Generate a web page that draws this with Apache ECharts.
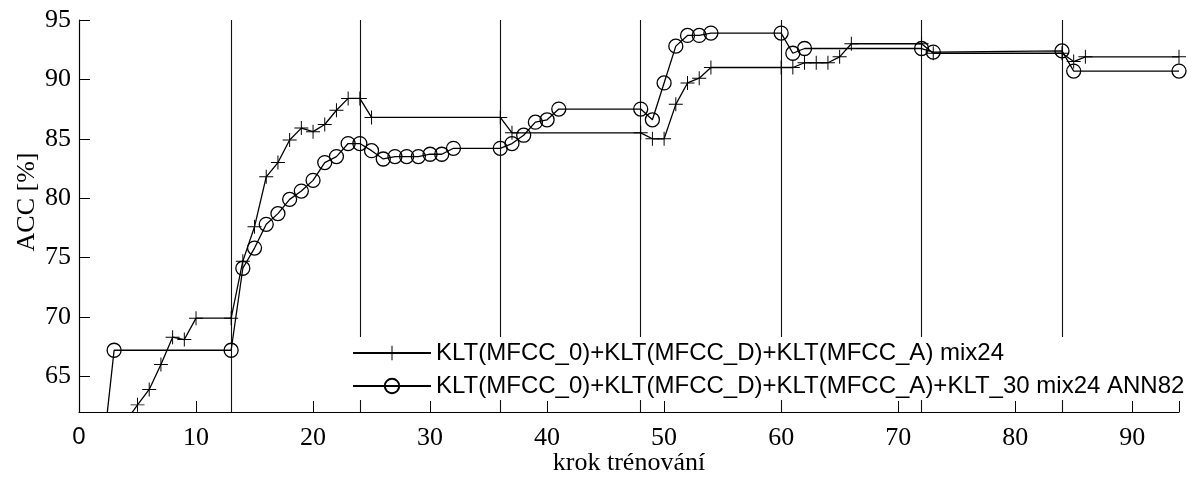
<!DOCTYPE html>
<html>
<head>
<meta charset="utf-8">
<title>ACC vs. krok trénování</title>
<script src="https://cdn.jsdelivr.net/npm/echarts@6/dist/echarts.min.js"></script>
<style>
  html, body { margin: 0; padding: 0; background: #fff; }
  #chart { width: 1198px; height: 477px; }
</style>
</head>
<body>
<div id="chart"></div>
<script>
// Series names
const nameMix24 = 'KLT(MFCC_0)+KLT(MFCC_D)+KLT(MFCC_A) mix24';
const nameAnn82 = 'KLT(MFCC_0)+KLT(MFCC_D)+KLT(MFCC_A)+KLT_30 mix24 ANN82';

// Training steps and accuracy [%] of the mix24 system
const stepsMix24 = [4, 5, 6, 7, 8, 9, 10, 13, 14, 15, 16, 17, 18, 19, 20, 21, 22, 23, 24, 25,
  36, 37, 48, 49, 50, 51, 52, 53, 54, 60, 61, 62, 63, 64, 65, 66, 72, 73, 84, 85, 86, 94];
const accMix24 = [61.2, 62.6, 63.9, 66.0, 68.3, 68.1, 69.9, 69.9, 74.7, 77.6, 81.8, 83.0, 84.9, 85.9, 85.6, 86.2, 87.4, 88.4, 88.4, 86.8,
  86.8, 85.5, 85.5, 85.0, 85.0, 87.9, 89.7, 90.1, 91.0, 91.0, 91.0, 91.4, 91.4, 91.4, 91.9, 93.0, 93.0, 92.2, 92.2, 91.5, 91.9, 91.9];

// Training steps and accuracy [%] of the ANN82 system
const stepsAnn82 = [2, 3, 13, 14, 15, 16, 17, 18, 19, 20, 21, 22, 23, 24, 25, 26, 27, 28, 29, 30, 31, 32,
  36, 37, 38, 39, 40, 41, 48, 49, 50, 51, 52, 53, 54, 60, 61, 62, 72, 73, 84, 85, 94];
const accAnn82 = [58.2, 67.2, 67.2, 74.1, 75.8, 77.8, 78.7, 79.9, 80.6, 81.5, 83.0, 83.5, 84.6, 84.6, 84.0, 83.3, 83.5, 83.5, 83.5, 83.7, 83.7, 84.2,
  84.2, 84.6, 85.3, 86.4, 86.6, 87.5, 87.5, 86.6, 89.7, 92.8, 93.7, 93.7, 93.9, 93.9, 92.2, 92.6, 92.6, 92.3, 92.4, 90.7, 90.7];

// Stage boundaries (vertical lines)
const stageBounds = [13, 24, 36, 48, 60, 72, 84];

// Tick labels
const xTicks = [0, 10, 20, 30, 40, 50, 60, 70, 80, 90];
const yTicks = [65, 70, 75, 80, 85, 90, 95];

const pairs = (xs, ys) => xs.map((x, i) => [x, ys[i]]);

const serif = '"Liberation Serif", "DejaVu Serif", serif';
const sans = '"Liberation Sans", Arial, sans-serif';
const plusPath = 'path://M0,4.65H4.65V0H5.35V4.65H10V5.35H5.35V10H4.65V5.35H0Z';

const chart = echarts.init(document.getElementById('chart'), null, { renderer: 'canvas' });

chart.setOption({
  animation: false,
  backgroundColor: '#fff',
  grid: { left: 79, right: 19, top: 20, bottom: 65, containLabel: false, outerBoundsMode: 'none' },
  legend: {
    orient: 'vertical',
    left: 346,
    top: 337,
    z: 6,
    padding: [4, 8, 2, 6],
    backgroundColor: '#fff',
    itemWidth: 78,
    itemHeight: 18,
    itemGap: 9,
    textStyle: { fontFamily: sans, fontSize: 24, color: '#000', lineHeight: 24 },
    data: [nameMix24, nameAnn82]
  },
  xAxis: {
    type: 'value',
    min: 0,
    max: 94,
    interval: 10,
    name: 'krok trénování',
    nameLocation: 'middle',
    nameGap: 38,
    nameMoveOverlap: false,
    nameTextStyle: { fontFamily: serif, fontSize: 26, color: '#000' },
    axisLine: { lineStyle: { color: '#000', width: 1.2 } },
    axisTick: { show: true, inside: true, length: 11, lineStyle: { color: '#000', width: 1 } },
    axisLabel: {
      customValues: xTicks,
      margin: 13,
      color: '#000',
      fontFamily: serif,
      fontSize: 26,
      formatter: v => (v === 0 ? '{s|0}' : String(v)),
      rich: { s: { fontFamily: sans, fontSize: 24, color: '#000' } }
    },
    splitLine: { show: false }
  },
  yAxis: {
    type: 'value',
    min: 62,
    max: 95,
    splitNumber: 6,
    axisLine: { show: true, lineStyle: { color: '#000', width: 1.2 } },
    axisTick: { show: true, inside: true, length: 11, lineStyle: { color: '#000', width: 1 } },
    axisLabel: {
      customValues: yTicks,
      margin: 8,
      color: '#000',
      fontFamily: serif,
      fontSize: 26
    },
    splitLine: { show: false }
  },
  graphic: [{
    type: 'text',
    x: 27,
    y: 202,
    rotation: Math.PI / 2,
    style: {
      text: 'ACC [%]',
      fontFamily: serif,
      fontSize: 26,
      fill: '#000',
      align: 'center',
      verticalAlign: 'middle'
    }
  }],
  series: [
    {
      name: nameMix24,
      type: 'line',
      data: pairs(stepsMix24, accMix24),
      symbol: plusPath,
      symbolSize: 14,
      showAllSymbol: true,
      lineStyle: { color: '#000', width: 1.3 },
      itemStyle: { color: '#000' },
      markLine: {
        silent: true,
        z: 3,
        symbol: 'none',
        label: { show: false },
        lineStyle: { color: '#111', width: 1.1, type: 'solid' },
        data: stageBounds.map(x => ({ xAxis: x }))
      }
    },
    {
      name: nameAnn82,
      type: 'line',
      data: pairs(stepsAnn82, accAnn82),
      symbol: 'circle',
      symbolSize: 14,
      showAllSymbol: true,
      lineStyle: { color: '#000', width: 1.3 },
      itemStyle: { color: 'rgba(0,0,0,0)', borderColor: '#000', borderWidth: 1.3 }
    }
  ]
});
</script>
</body>
</html>
